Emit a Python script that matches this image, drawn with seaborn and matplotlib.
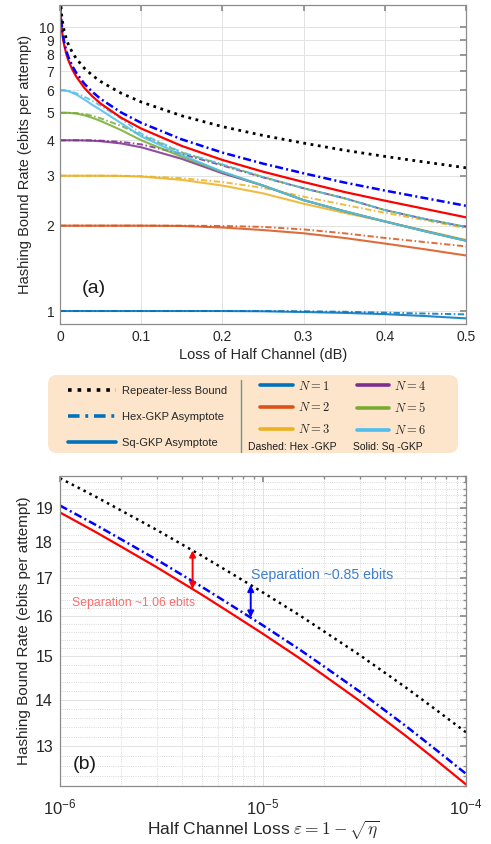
import numpy as np
import matplotlib
matplotlib.use("Agg")
import matplotlib.pyplot as plt
import matplotlib.ticker as mticker
from matplotlib.lines import Line2D
from matplotlib.patches import FancyBboxPatch
import seaborn as sns

# ------------------------------------------------------------
# panel (a): rate vs loss of half channel (dB)
# ------------------------------------------------------------
loss_db = [0, 0.002, 0.005, 0.01, 0.02, 0.03, 0.04, 0.05, 0.075, 0.1,
           0.15, 0.2, 0.25, 0.3, 0.35, 0.4, 0.45, 0.5]

# solid = square GKP, dashed = hex GKP, N = 1..6
sq_n1 = [1, 1, 1, 1, 1, 1, 1, 1, 1, 1, 1, 1, 0.998, 0.992, 0.985, 0.975, 0.96, 0.942]
hex_n1 = [1, 1, 1, 1, 1, 1, 1, 1, 1, 1, 1, 1, 1.0, 0.998, 0.994, 0.987, 0.98, 0.973]
sq_n2 = [2, 2, 2, 2, 2, 2, 2, 2, 2, 2, 1.995, 1.97, 1.93, 1.88, 1.81, 1.73, 1.65, 1.57]
hex_n2 = [2, 2, 2, 2, 2, 2, 2, 2, 2, 2, 2, 1.995, 1.98, 1.94, 1.88, 1.81, 1.75, 1.69]
sq_n3 = [3, 3, 3, 3, 3, 3, 3, 3, 2.995, 2.98, 2.9, 2.77, 2.6, 2.39, 2.22, 2.07, 1.92, 1.78]
hex_n3 = [3, 3, 3, 3, 3, 3, 3, 3, 3, 2.99, 2.94, 2.85, 2.72, 2.53, 2.37, 2.22, 2.09, 1.96]
sq_n4 = [4, 4, 4, 4, 4, 3.995, 3.985, 3.97, 3.9, 3.78, 3.44, 3.06, 2.77, 2.46, 2.25, 2.07, 1.91, 1.77]
hex_n4 = [4, 4, 4, 4, 4, 4, 3.998, 3.99, 3.95, 3.87, 3.58, 3.26, 2.96, 2.71, 2.5, 2.27, 2.11, 1.98]
sq_n5 = [5, 5, 5, 5, 4.97, 4.9, 4.8, 4.68, 4.35, 4.0, 3.5, 3.09, 2.77, 2.46, 2.25, 2.07, 1.91, 1.77]
hex_n5 = [5, 5, 5, 5, 4.99, 4.95, 4.88, 4.78, 4.5, 4.17, 3.62, 3.28, 2.97, 2.71, 2.5, 2.27, 2.11, 1.98]
sq_n6 = [6, 6, 6, 5.97, 5.8, 5.57, 5.33, 5.12, 4.6, 4.13, 3.55, 3.1, 2.77, 2.46, 2.25, 2.07, 1.91, 1.77]
hex_n6 = [6, 6, 6, 5.98, 5.86, 5.7, 5.5, 5.3, 4.78, 4.22, 3.63, 3.29, 2.97, 2.71, 2.5, 2.27, 2.11, 1.98]

sq_curves = [sq_n1, sq_n2, sq_n3, sq_n4, sq_n5, sq_n6]
hex_curves = [hex_n1, hex_n2, hex_n3, hex_n4, hex_n5, hex_n6]
n_labels = ["$N = 1$", "$N = 2$", "$N = 3$", "$N = 4$", "$N = 5$", "$N = 6$"]
n_colors = ["#0072BD", "#D95319", "#EDB120", "#7E2F8E", "#77AC30", "#4DBEEE"]

loss_asym = [0.0005, 0.001, 0.002, 0.003, 0.005, 0.0075, 0.01, 0.015, 0.02, 0.03, 0.04,
             0.05, 0.075, 0.1, 0.15, 0.2, 0.25, 0.3, 0.35, 0.4, 0.45, 0.5]
plob_a = [13.08, 12.08, 11.09, 10.50, 9.76, 9.18, 8.76, 8.18, 7.77, 7.18, 6.77,
          6.45, 5.87, 5.46, 4.88, 4.47, 4.16, 3.91, 3.69, 3.51, 3.35, 3.20]
sq_asym_a = [12.02, 11.02, 10.03, 9.44, 8.70, 8.12, 7.70, 7.12, 6.71, 6.12, 5.71,
             5.39, 4.81, 4.40, 3.82, 3.41, 3.10, 2.85, 2.63, 2.45, 2.29, 2.14]
hex_asym_a = [12.23, 11.23, 10.24, 9.65, 8.91, 8.33, 7.91, 7.33, 6.92, 6.33, 5.92,
              5.60, 5.02, 4.61, 4.03, 3.62, 3.31, 3.06, 2.84, 2.66, 2.50, 2.35]

# ------------------------------------------------------------
# panel (b): rate vs half channel loss epsilon
# ------------------------------------------------------------
eps = [1e-6, 1.5e-6, 2e-6, 3e-6, 5e-6, 7e-6, 1e-5, 1.5e-5, 2e-5, 3e-5, 5e-5, 7e-5, 1e-4]
plob_b = [19.93, 19.35, 18.93, 18.35, 17.61, 17.12, 16.61, 16.03, 15.61, 15.03, 14.29, 13.80, 13.29]
hex_b = [19.08, 18.50, 18.08, 17.50, 16.76, 16.27, 15.76, 15.18, 14.76, 14.18, 13.44, 12.95, 12.44]
sq_b = [18.87, 18.29, 17.87, 17.29, 16.55, 16.06, 15.55, 14.97, 14.55, 13.97, 13.23, 12.74, 12.23]

# separation arrows (x, from, to)
arrow_x = [4.5e-6, 8.7e-6]
arrow_top = [17.76, 16.81]
arrow_bottom = [16.70, 15.96]
arrow_colors = ["#ff0000", "#0000ff"]

# ------------------------------------------------------------
sns.set_theme(style="white")
plt.rcParams["font.family"] = ["Liberation Sans", "DejaVu Sans"]
plt.rcParams["mathtext.fontset"] = "custom"
plt.rcParams["mathtext.rm"] = "Liberation Sans"
plt.rcParams["mathtext.it"] = "Liberation Sans:italic"
plt.rcParams["mathtext.bf"] = "Liberation Sans:bold"

W, H = 491, 844
fig = plt.figure(figsize=(W / 100, H / 100), dpi=100)

dashdot = (0, (3.2, 1.3, 0.8, 1.3))


def px_axes(l, t, r, b):
    return fig.add_axes([l / W, 1 - b / H, (r - l) / W, (b - t) / H])


def box_style(ax, size, pad):
    for s in ax.spines.values():
        s.set_visible(True)
        s.set_color("#8c8c8c")
        s.set_linewidth(0.9)
    ax.tick_params(which="both", direction="in", top=True, right=True,
                   color="#8c8c8c", labelcolor="#262626", labelsize=size, pad=pad)
    ax.tick_params(which="major", length=4)
    ax.tick_params(which="minor", length=2.5)


ylab = "Hashing Bound Rate (ebits per attempt)"

# ---------------- panel (a) ----------------
ax1 = px_axes(60, 5, 466, 324)
for ys, yh, c in zip(sq_curves, hex_curves, n_colors):
    sns.lineplot(x=loss_db, y=yh, ax=ax1, color=c, lw=1.4, linestyle=dashdot, alpha=0.85)
    sns.lineplot(x=loss_db, y=ys, ax=ax1, color=c, lw=1.5, alpha=0.85)
sns.lineplot(x=loss_asym, y=sq_asym_a, ax=ax1, color="#ff0000", lw=1.6)
sns.lineplot(x=loss_asym, y=hex_asym_a, ax=ax1, color="#0000ff", lw=1.8, linestyle=dashdot)
sns.lineplot(x=loss_asym, y=plob_a, ax=ax1, color="black", lw=2.0, linestyle=":")

ax1.set_yscale("log")
ax1.set_xlim(0, 0.5)
ax1.set_ylim(0.9, 12)
ax1.yaxis.set_major_locator(mticker.FixedLocator(range(1, 11)))
ax1.yaxis.set_major_formatter(mticker.FormatStrFormatter("%d"))
ax1.yaxis.set_minor_locator(mticker.NullLocator())
ax1.set_xticks([0, 0.1, 0.2, 0.3, 0.4, 0.5])
ax1.xaxis.set_major_formatter(mticker.FormatStrFormatter("%g"))
ax1.grid(True, which="major", color="#e3e3e3", lw=0.7)
ax1.set_axisbelow(True)
box_style(ax1, 10, 4)
ax1.set_xlabel("Loss of Half Channel (dB)", fontsize=10.5, color="#262626", labelpad=3)
ax1.set_ylabel(ylab, fontsize=10.5, color="#262626", labelpad=5)
ax1.text(0.027, 1.2, "(a)", fontsize=14, color="#1a1a1a", va="center")

# ---------------- legend box ----------------
box = px_axes(48, 375, 458, 453)
box.set_xlim(0, 410)
box.set_ylim(78, 0)
box.axis("off")
box.add_patch(FancyBboxPatch((0, 0), 410, 78, boxstyle="round,pad=0,rounding_size=9",
                             fc="#fde5cc", ec="none", clip_on=False))
box.plot([193, 193], [5, 77], color="#5f9c8c", lw=1)
box.text(200, 71.5, "Dashed: Hex -GKP", fontsize=7.5, va="center", color="#1a1a1a")
box.text(305, 71.5, "Solid: Sq -GKP", fontsize=7.5, va="center", color="#1a1a1a")

left_handles = [
    Line2D([], [], color="black", lw=2.6, linestyle=":"),
    Line2D([], [], color="#0072BD", lw=2.6, linestyle=(0, (3.2, 1.6, 0.8, 1.6))),
    Line2D([], [], color="#0072BD", lw=2.6),
]
left_labels = ["Repeater-less Bound", "Hex-GKP Asymptote", "Sq-GKP Asymptote"]
leg1 = box.legend(left_handles, left_labels, loc="upper left",
                  bbox_to_anchor=(68 / W, 1 - 386 / H), bbox_transform=fig.transFigure,
                  frameon=False, borderpad=0, borderaxespad=0, fontsize=8,
                  handlelength=4.3, handletextpad=0.6, labelspacing=1.45)
box.add_artist(leg1)

right_handles = [Line2D([], [], color=c, lw=2.6) for c in n_colors]
leg2 = box.legend(right_handles, n_labels, loc="upper left", ncol=2,
                  bbox_to_anchor=(260 / W, 1 - 379.5 / H), bbox_transform=fig.transFigure,
                  frameon=False, borderpad=0, borderaxespad=0, fontsize=9,
                  handlelength=2.6, handletextpad=0.4, labelspacing=0.7, columnspacing=2.2)
for t in leg2.get_texts():
    t.set_math_fontfamily("cm")

# ---------------- panel (b) ----------------
ax2 = px_axes(60, 476, 466, 786)
sns.lineplot(x=eps, y=sq_b, ax=ax2, color="#ff0000", lw=1.6)
sns.lineplot(x=eps, y=hex_b, ax=ax2, color="#0000ff", lw=1.8, linestyle=dashdot)
sns.lineplot(x=eps, y=plob_b, ax=ax2, color="black", lw=1.8, linestyle=":")

ax2.set_xscale("log")
ax2.set_yscale("log")
ax2.set_xlim(1e-6, 1e-4)
ax2.set_ylim(12.2, 20.0)
ax2.yaxis.set_major_locator(mticker.FixedLocator(range(13, 20)))
ax2.yaxis.set_major_formatter(mticker.FormatStrFormatter("%d"))
ax2.yaxis.set_minor_locator(mticker.FixedLocator(np.arange(12.2, 20.01, 0.2)))
ax2.yaxis.set_minor_formatter(mticker.NullFormatter())
ax2.xaxis.set_major_locator(mticker.LogLocator(base=10, numticks=10))
ax2.xaxis.set_minor_locator(mticker.LogLocator(base=10, subs=np.arange(2, 10), numticks=10))
ax2.xaxis.set_minor_formatter(mticker.NullFormatter())
ax2.grid(True, which="major", color="#e3e3e3", lw=0.7)
ax2.grid(True, which="minor", color="#cccccc", lw=0.6, linestyle=":")
ax2.set_axisbelow(True)
box_style(ax2, 11.5, 5)
ax2.tick_params(axis="x", labelsize=12, pad=8)
ax2.set_xlabel(r"Half Channel Loss $\varepsilon = 1 - \sqrt{\eta}$", fontsize=12.5,
               color="#262626", math_fontfamily="cm", labelpad=1.5)
ax2.set_ylabel(ylab, fontsize=11, color="#262626", labelpad=3)

for x, y0, y1, c in zip(arrow_x, arrow_top, arrow_bottom, arrow_colors):
    ax2.annotate("", xy=(x, y1), xytext=(x, y0),
                 arrowprops=dict(arrowstyle="<|-|>", color=c, lw=1.4,
                                 mutation_scale=9, shrinkA=0, shrinkB=0))
ax2.text(1.15e-6, 16.34, "Separation ~1.06 ebits", color="#ff6b6b", fontsize=8.8, va="center")
ax2.text(8.7e-6, 17.07, "Separation ~0.85 ebits", color="#3f7fcf", fontsize=10.2, va="center")
ax2.text(1.15e-6, 12.63, "(b)", fontsize=14, color="#1a1a1a", va="center")

fig.savefig("out.png", dpi=100)
